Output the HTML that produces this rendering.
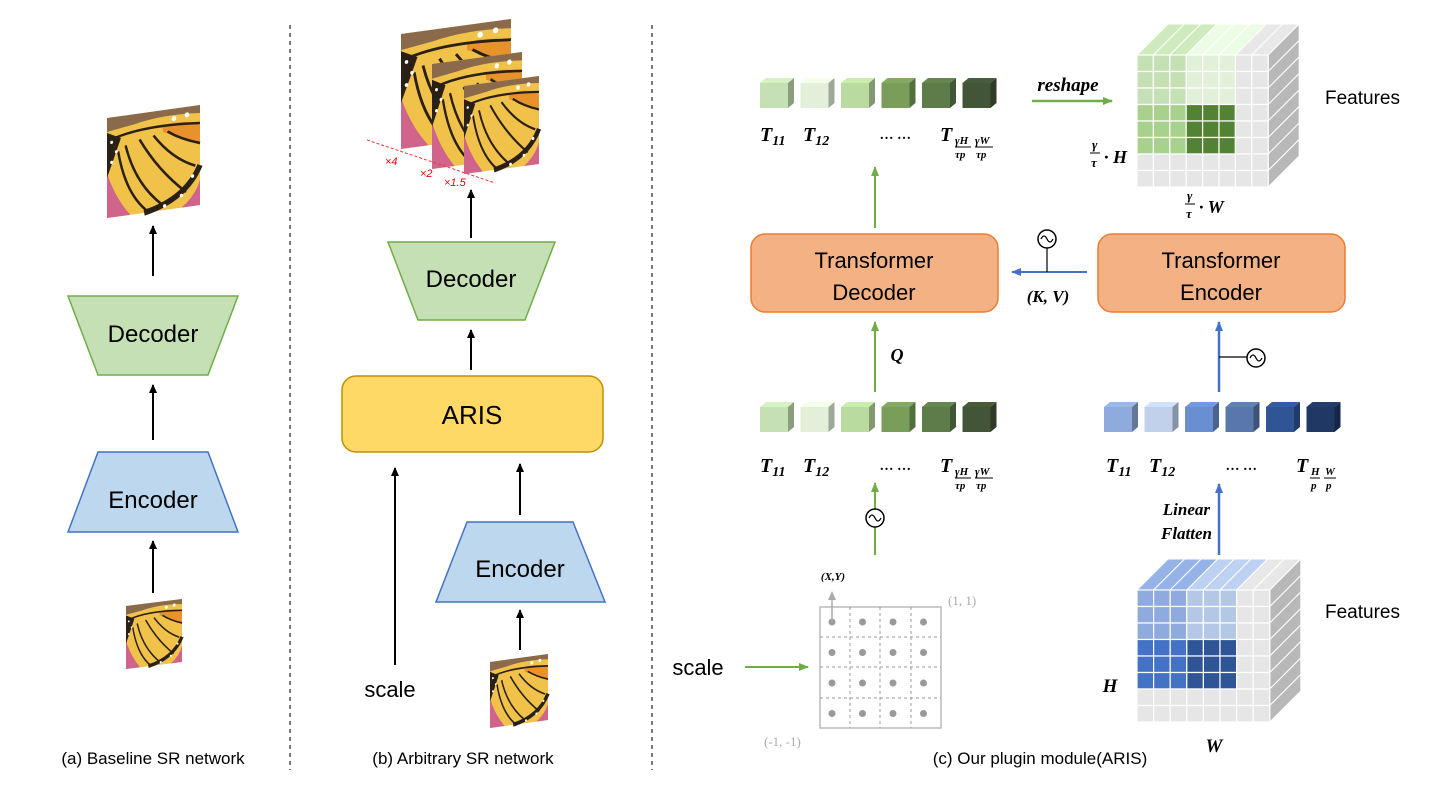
<!DOCTYPE html>
<html><head><meta charset="utf-8"><style>
html,body{margin:0;padding:0;background:#fff}
svg{display:block}
.s{font-family:"Liberation Sans",sans-serif}
.m{font-family:"Liberation Serif",serif;font-weight:bold;font-style:italic}
</style></head><body>
<svg id="sv" width="1450" height="789" viewBox="0 0 1450 789" xmlns="http://www.w3.org/2000/svg">
<defs>
<marker id="ak" markerWidth="10" markerHeight="10" refX="8" refY="5" orient="auto" markerUnits="userSpaceOnUse"><path d="M0,1 L9,5 L0,9 Z" fill="#000"/></marker>
<marker id="ag" markerWidth="12" markerHeight="10" refX="9" refY="5" orient="auto" markerUnits="userSpaceOnUse"><path d="M0,1 L10,5 L0,9 Z" fill="#70ad47"/></marker>
<marker id="ab" markerWidth="12" markerHeight="10" refX="9" refY="5" orient="auto" markerUnits="userSpaceOnUse"><path d="M0,1 L10,5 L0,9 Z" fill="#4472c4"/></marker>
<marker id="agr" markerWidth="10" markerHeight="10" refX="8" refY="5" orient="auto" markerUnits="userSpaceOnUse"><path d="M0,1 L9,5 L0,9 Z" fill="#aaa"/></marker>
<g id="bf">
<rect x="0" y="0" width="100" height="100" fill="#f0c24a"/>
<path d="M0,0 H100 V8 Q60,4 30,10 L0,14Z" fill="#8a6a4a"/>
<path d="M0,55 Q8,80 25,100 H0Z" fill="#d0648a"/>
<path d="M80,100 Q95,90 100,75 V100Z" fill="#d0648a"/>
<path d="M60,15 Q85,12 100,20 V40 Q85,30 60,22Z" fill="#e8922c"/>
<path d="M5,22 Q40,12 100,18 M20,30 Q30,70 60,95 M35,26 Q55,60 85,85 M50,24 Q70,50 95,60 M65,22 Q80,32 100,38 M12,35 Q20,80 45,100" stroke="#2b2016" stroke-width="2.5" fill="none"/>
<path d="M0,15 V60 Q8,40 15,22Z" fill="#2b2016"/>
<path d="M40,100 Q85,92 100,60" stroke="#2b2016" stroke-width="6" fill="none"/>
<g fill="#fff"><circle cx="5" cy="25" r="1.6"/><circle cx="10" cy="35" r="1.6"/><circle cx="5" cy="45" r="1.6"/><circle cx="72" cy="10" r="2.5"/><circle cx="86" cy="8" r="2.5"/><circle cx="92" cy="70" r="1.8"/><circle cx="80" cy="88" r="1.8"/><circle cx="62" cy="96" r="1.8"/></g>
</g>
</defs>

<line x1="290" y1="25" x2="290" y2="770" stroke="#222" stroke-dasharray="4,4" stroke-width="1.2"/>
<line x1="652" y1="25" x2="652" y2="770" stroke="#222" stroke-dasharray="4,4" stroke-width="1.2"/>

<!-- (a) -->
<use href="#bf" transform="matrix(0.93,-0.13,0,1,107,118)"/>
<line x1="153" y1="276" x2="153" y2="226" stroke="#000" stroke-width="2" marker-end="url(#ak)"/>
<polygon points="68,296 238,296 208,375 98,375" fill="#c5e0b4" stroke="#70ad47" stroke-width="1.5"/>
<text x="153" y="342" class="s" font-size="24" text-anchor="middle">Decoder</text>
<line x1="153" y1="440" x2="153" y2="385" stroke="#000" stroke-width="2" marker-end="url(#ak)"/>
<polygon points="98,452 208,452 238,532 68,532" fill="#bdd7ee" stroke="#4472c4" stroke-width="1.5"/>
<text x="153" y="508" class="s" font-size="24" text-anchor="middle">Encoder</text>
<line x1="153" y1="593" x2="153" y2="541" stroke="#000" stroke-width="2" marker-end="url(#ak)"/>
<use href="#bf" transform="matrix(0.56,-0.07,0,0.63,126,606)"/>
<text x="153" y="764" class="s" font-size="17" text-anchor="middle">(a) Baseline SR network</text>

<!-- (b) -->
<use href="#bf" transform="matrix(1.1,-0.15,0,1.15,401,34)"/>
<use href="#bf" transform="matrix(0.9,-0.12,0,1.05,432,64)"/>
<use href="#bf" transform="matrix(0.75,-0.1,0,0.88,464,86)"/>
<line x1="367" y1="140" x2="495" y2="183" stroke="#f33" stroke-width="1" stroke-dasharray="3,2"/>
<text x="385" y="165" font-family="Liberation Sans" font-style="italic" font-size="11" fill="#f00">×4</text>
<text x="420" y="177" font-family="Liberation Sans" font-style="italic" font-size="11" fill="#f00">×2</text>
<text x="444" y="186" font-family="Liberation Sans" font-style="italic" font-size="11" fill="#f00">×1.5</text>
<line x1="471" y1="238" x2="471" y2="190" stroke="#000" stroke-width="2" marker-end="url(#ak)"/>
<polygon points="388,242 555,242 525,320 418,320" fill="#c5e0b4" stroke="#70ad47" stroke-width="1.5"/>
<text x="471" y="287" class="s" font-size="24" text-anchor="middle">Decoder</text>
<line x1="471" y1="370" x2="471" y2="330" stroke="#000" stroke-width="2" marker-end="url(#ak)"/>
<rect x="342" y="376" width="261" height="76" rx="14" fill="#ffd966" stroke="#bf9000" stroke-width="1.5"/>
<text x="472" y="424" class="s" font-size="26" text-anchor="middle">ARIS</text>
<line x1="395" y1="665" x2="395" y2="468" stroke="#000" stroke-width="2" marker-end="url(#ak)"/>
<text x="390" y="697" class="s" font-size="22" text-anchor="middle">scale</text>
<line x1="520" y1="515" x2="520" y2="464" stroke="#000" stroke-width="2" marker-end="url(#ak)"/>
<polygon points="467,522 573,522 605,602 436,602" fill="#bdd7ee" stroke="#4472c4" stroke-width="1.5"/>
<text x="520" y="577" class="s" font-size="24" text-anchor="middle">Encoder</text>
<line x1="520" y1="650" x2="520" y2="610" stroke="#000" stroke-width="2" marker-end="url(#ak)"/>
<use href="#bf" transform="matrix(0.58,-0.08,0,0.66,490,662)"/>
<text x="463" y="764" class="s" font-size="17" text-anchor="middle">(b) Arbitrary SR network</text>

<!-- (c) -->
<g id="tokTop"></g>
<text class="m" font-size="20" x="760" y="141">T<tspan font-size="14" dy="4">11</tspan></text>
<text class="m" font-size="20" x="803" y="141">T<tspan font-size="14" dy="4">12</tspan></text>
<text class="m" font-size="14" x="880" y="139">… …</text>
<text class="m" font-size="20" x="940" y="141">T</text>
<text class="m" font-size="11" x="955" y="144">γH</text><line x1="955" y1="147" x2="971" y2="147" stroke="#000"/><text class="m" font-size="11" x="955" y="158">τp</text>
<text class="m" font-size="11" x="975" y="144">γW</text><line x1="975" y1="147" x2="993" y2="147" stroke="#000"/><text class="m" font-size="11" x="976" y="158">τp</text>

<text class="m" font-size="19" x="1068" y="91" text-anchor="middle">reshape</text>
<line x1="1032" y1="101" x2="1112" y2="101" stroke="#70ad47" stroke-width="2.5" marker-end="url(#ag)"/>
<g id="cubeTop"></g>
<text class="s" font-size="19" x="1325" y="104">Features</text>
<text class="m" font-size="13" x="1092" y="149">γ</text><line x1="1090" y1="153" x2="1100" y2="153" stroke="#000"/><text class="m" font-size="13" x="1091" y="167">τ</text>
<text class="m" font-size="18" x="1104" y="163">· H</text>
<text class="m" font-size="13" x="1187" y="200">γ</text><line x1="1185" y1="204" x2="1195" y2="204" stroke="#000"/><text class="m" font-size="13" x="1186" y="218">τ</text>
<text class="m" font-size="18" x="1199" y="213">· W</text>

<line x1="875" y1="228" x2="875" y2="167" stroke="#70ad47" stroke-width="2" marker-end="url(#ag)"/>
<rect x="751" y="234" width="247" height="78" rx="14" fill="#f4b183" stroke="#ed7d31" stroke-width="1.5"/>
<text x="874" y="268" class="s" font-size="22" text-anchor="middle">Transformer</text>
<text x="874" y="300" class="s" font-size="22" text-anchor="middle">Decoder</text>
<rect x="1098" y="234" width="247" height="78" rx="14" fill="#f4b183" stroke="#ed7d31" stroke-width="1.5"/>
<text x="1221" y="268" class="s" font-size="22" text-anchor="middle">Transformer</text>
<text x="1221" y="300" class="s" font-size="22" text-anchor="middle">Encoder</text>
<line x1="1087" y1="272" x2="1012" y2="272" stroke="#4472c4" stroke-width="2" marker-end="url(#ab)"/>
<line x1="1047" y1="272" x2="1047" y2="248" stroke="#000" stroke-width="1.2"/>
<circle cx="1047" cy="239" r="9" fill="#fff" stroke="#000" stroke-width="1.5"/>
<path d="M1041,239 q3,-6 6,0 t6,0" fill="none" stroke="#000" stroke-width="1.3"/>
<text class="m" font-size="17" x="1048" y="302" text-anchor="middle">(K, V)</text>

<line x1="875" y1="392" x2="875" y2="322" stroke="#70ad47" stroke-width="2" marker-end="url(#ag)"/>
<text class="m" font-size="18" x="897" y="361" text-anchor="middle">Q</text>
<line x1="1219" y1="392" x2="1219" y2="322" stroke="#4472c4" stroke-width="2.5" marker-end="url(#ab)"/>
<line x1="1219" y1="357" x2="1248" y2="357" stroke="#000" stroke-width="1.2"/>
<circle cx="1256" cy="358" r="9" fill="#fff" stroke="#000" stroke-width="1.5"/>
<path d="M1250,358 q3,-6 6,0 t6,0" fill="none" stroke="#000" stroke-width="1.3"/>

<g id="tokMid"></g><g id="tokBlue"></g>
<text class="m" font-size="20" x="760" y="472">T<tspan font-size="14" dy="4">11</tspan></text>
<text class="m" font-size="20" x="803" y="472">T<tspan font-size="14" dy="4">12</tspan></text>
<text class="m" font-size="14" x="880" y="470">… …</text>
<text class="m" font-size="20" x="940" y="472">T</text>
<text class="m" font-size="11" x="955" y="475">γH</text><line x1="955" y1="478" x2="971" y2="478" stroke="#000"/><text class="m" font-size="11" x="955" y="489">τp</text>
<text class="m" font-size="11" x="975" y="475">γW</text><line x1="975" y1="478" x2="993" y2="478" stroke="#000"/><text class="m" font-size="11" x="976" y="489">τp</text>

<text class="m" font-size="20" x="1106" y="472">T<tspan font-size="14" dy="4">11</tspan></text>
<text class="m" font-size="20" x="1149" y="472">T<tspan font-size="14" dy="4">12</tspan></text>
<text class="m" font-size="14" x="1226" y="470">… …</text>
<text class="m" font-size="20" x="1296" y="472">T</text>
<text class="m" font-size="11" x="1311" y="475">H</text><line x1="1310" y1="478" x2="1320" y2="478" stroke="#000"/><text class="m" font-size="11" x="1311" y="489">p</text>
<text class="m" font-size="11" x="1325" y="475">W</text><line x1="1324" y1="478" x2="1336" y2="478" stroke="#000"/><text class="m" font-size="11" x="1326" y="489">p</text>

<line x1="875" y1="555" x2="875" y2="483" stroke="#70ad47" stroke-width="2" marker-end="url(#ag)"/>
<circle cx="875" cy="518" r="9" fill="#fff" stroke="#000" stroke-width="1.5"/>
<path d="M869,518 q3,-6 6,0 t6,0" fill="none" stroke="#000" stroke-width="1.3"/>
<line x1="1219" y1="555" x2="1219" y2="484" stroke="#4472c4" stroke-width="2.5" marker-end="url(#ab)"/>
<text class="m" font-size="17" x="1210" y="515" text-anchor="end">Linear</text>
<text class="m" font-size="17" x="1212" y="539" text-anchor="end">Flatten</text>

<rect x="820" y="607" width="121" height="121" fill="#fff" stroke="#bbb" stroke-width="1.5"/>
<g stroke="#999" stroke-dasharray="3,3" stroke-width="1"><line x1="850" y1="607" x2="850" y2="728"/><line x1="880" y1="607" x2="880" y2="728"/><line x1="911" y1="607" x2="911" y2="728"/><line x1="820" y1="637" x2="941" y2="637"/><line x1="820" y1="667" x2="941" y2="667"/><line x1="820" y1="698" x2="941" y2="698"/></g>
<g id="dots" fill="#999"></g>
<line x1="832" y1="622" x2="832" y2="592" stroke="#aaa" stroke-width="1.5" marker-end="url(#agr)"/>
<text class="m" font-size="11" x="833" y="580" text-anchor="middle">(X,Y)</text>
<text font-family="Liberation Serif" font-size="13" fill="#aaa" x="948" y="605">(1, 1)</text>
<text font-family="Liberation Serif" font-size="13" fill="#aaa" x="764" y="746">(-1, -1)</text>
<text class="s" font-size="22" x="698" y="675" text-anchor="middle">scale</text>
<line x1="745" y1="667" x2="808" y2="667" stroke="#70ad47" stroke-width="2" marker-end="url(#ag)"/>

<g id="cubeBot"></g>
<text class="s" font-size="19" x="1325" y="618">Features</text>
<text class="m" font-size="19" x="1110" y="692" text-anchor="middle">H</text>
<text class="m" font-size="19" x="1214" y="752" text-anchor="middle">W</text>
<text x="1040" y="764" class="s" font-size="17" text-anchor="middle">(c) Our plugin module(ARIS)</text>
</svg>
<script>
var NS="http://www.w3.org/2000/svg";
function el(p,t,a){var e=document.createElementNS(NS,t);for(var k in a)e.setAttribute(k,a[k]);document.getElementById(p).appendChild(e);return e;}
function shade(c,f){var n=parseInt(c.slice(1),16),r=n>>16,g=(n>>8)&255,b=n&255;r=Math.min(255,Math.round(r*f));g=Math.min(255,Math.round(g*f));b=Math.min(255,Math.round(b*f));return "rgb("+r+","+g+","+b+")";}
function toks(id,x0,y,cols){for(var i=0;i<6;i++){var x=x0+i*40.5,c=cols[i];
el(id,"polygon",{points:(x)+","+(y+5)+" "+(x+6)+","+y+" "+(x+34)+","+y+" "+(x+28)+","+(y+5),fill:shade(c,1.08)});
el(id,"polygon",{points:(x+28)+","+(y+5)+" "+(x+34)+","+y+" "+(x+34)+","+(y+25)+" "+(x+28)+","+(y+30),fill:shade(c,0.7)});
el(id,"rect",{x:x,y:y+5,width:28,height:25,fill:c});}}
var G=["#c5e0b4","#e2f0d9","#b9dba0","#789e5a","#5d7c49","#435537"];
var B=["#8faadc","#c1d1ec","#6a8fd0","#5a77ab","#2f5597","#203864"];
toks("tokTop",760,78,G);toks("tokMid",760,402,G);toks("tokBlue",1104,402,B);
function cube(id,x,y,cw,ch,d,f){
for(var j=0;j<8;j++){var c=f(0,j);var cc=j<6?shade(c,1.05):"#e8e8e8";
el(id,"polygon",{points:(x+j*cw)+","+y+" "+(x+j*cw+d)+","+(y-d)+" "+(x+(j+1)*cw+d)+","+(y-d)+" "+(x+(j+1)*cw)+","+y,fill:cc,stroke:"#fff","stroke-width":1});}
for(var i=0;i<8;i++){el(id,"polygon",{points:(x+8*cw)+","+(y+i*ch)+" "+(x+8*cw+d)+","+(y+i*ch-d)+" "+(x+8*cw+d)+","+(y+(i+1)*ch-d)+" "+(x+8*cw)+","+(y+(i+1)*ch),fill:"#b8b8b8",stroke:"#fff","stroke-width":1});}
for(var i=0;i<8;i++)for(var j=0;j<8;j++)el(id,"rect",{x:x+j*cw,y:y+i*ch,width:cw,height:ch,fill:f(i,j),stroke:"#fff","stroke-width":1.2});}
cube("cubeTop",1137,55,16.4,16.5,31,function(i,j){if(j>5||i>5)return "#e6e6e6";if(i<3)return j<3?"#c5e0b4":"#e2f0d9";return j<3?"#a9d18e":"#548235";});
cube("cubeBot",1137,590,16.6,16.5,31,function(i,j){if(j>5||i>5)return "#e6e6e6";if(i<3)return j<3?"#8faadc":"#b4c7e7";return j<3?"#4472c4":"#2f5597";});
for(var i=0;i<4;i++)for(var j=0;j<4;j++)el("dots","circle",{cx:832+j*30.5,cy:622+i*30.5,r:3.5});
</script>
</body></html>
